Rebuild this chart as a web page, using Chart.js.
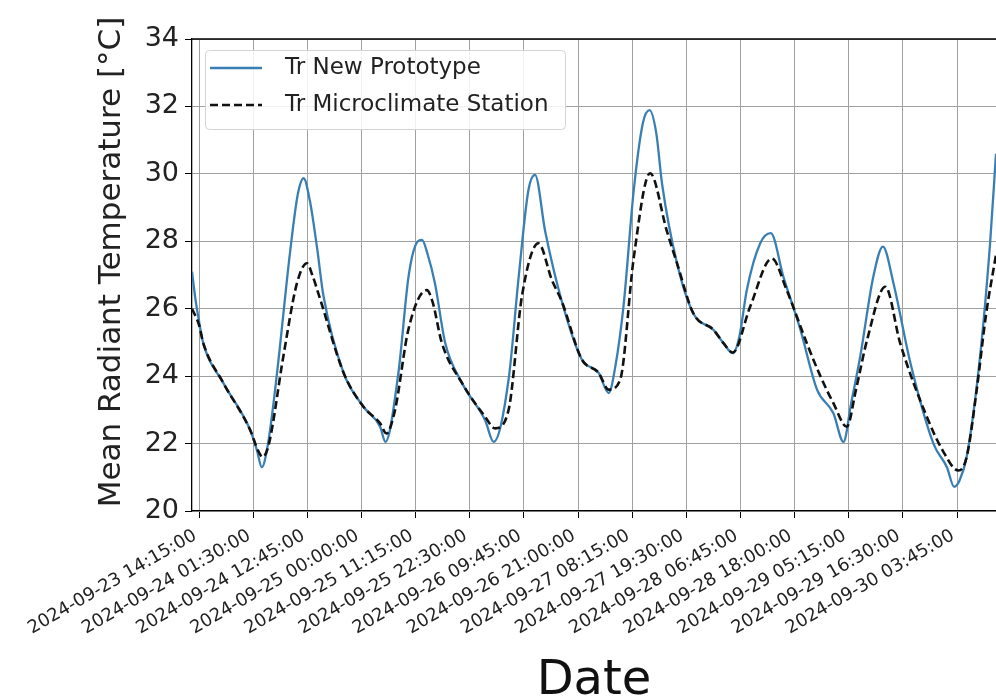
<!DOCTYPE html>
<html>
<head>
<meta charset="utf-8">
<script src="https://cdn.jsdelivr.net/npm/chart.js@4.4.1/dist/chart.umd.min.js"></script>
<style>
  html, body { margin: 0; padding: 0; background: #fff; }
  #wrap { width: 996px; height: 697px; }
</style>
</head>
<body>
<div id="wrap"><canvas id="myChart" width="996" height="697"></canvas></div>
<script>
// hours after 2024-09-23 14:15:00
const protoHours = [-1.5, -0.8, 0, 0.8, 5, 10.6, 12.0, 13.0, 14.3, 16.1, 18.9, 20.5, 21.7, 23.0, 24.5, 25.8, 30.0, 34.1, 37.6, 38.7,
    41.4, 43.5, 45.0, 46.3, 47.5, 49.0, 51.1, 54.6, 59.4, 61.2, 64.3, 66.4, 68.4, 69.8, 71.9, 75.4, 79.5, 83.0, 85.1,
    86.5, 88.2, 90.3, 92.2, 93.6, 95.0, 96.2, 99.3, 102.7, 106.9, 109.0, 110.9, 112.3, 113.8, 116.6, 118.8, 121.4,
    124.9, 128.4, 131.8, 133.9, 135.5, 137.4, 140.1, 142.1, 144.3, 147.8, 152.6, 155.4, 156.9, 158.0, 159.5, 162.3,
    164.4, 165.6];
const protoTemp = [27.1, 26.3, 25.6, 25.0, 23.8, 22.4, 21.8, 21.3, 22.0, 24.0, 27.7, 29.4, 29.87, 29.2, 27.8, 26.4, 24.1, 23.1, 22.5, 22.05,
    24.1, 26.95, 27.9, 28.04, 27.6, 26.75, 25.0, 23.8, 22.7, 22.05, 23.9, 26.95, 29.5, 29.97, 28.3, 26.2, 24.5, 24.1, 23.5,
    24.3, 26.1, 29.5, 31.5, 31.89, 31.2, 29.7, 27.35, 25.86, 25.37, 24.97, 24.68, 25.2, 26.55, 27.94, 28.24, 26.95,
    25.4, 23.6, 22.9, 22.05, 23.2, 24.6, 26.95, 27.84, 26.75, 24.4, 22.0, 21.3, 20.72, 20.9, 21.6, 24.6,
    28.0, 30.6];

const stationHours = [-1.5, 0, 0.8, 5, 10.6, 12.2, 13.2, 14.5, 17.5, 20.3, 22.4, 23.5, 25.1, 30.0, 34.1, 37.6, 38.9,
    40.7, 43.5, 47.3, 48.5, 50.4, 54.6, 59.4, 61.5, 64.3, 67.1, 70.5, 73.3, 75.4, 79.5, 83.0, 85.1, 87.5, 90.3,
    93.7, 97.2, 99.3, 102.7, 106.9, 109.0, 110.9, 114.5, 119.0, 122.1, 126.3, 129.1, 131.8, 134.6, 136.5, 138.8,
    142.6, 145.7, 151.2, 154.5, 157.8, 159.5, 161.6, 163.5, 165.6];
const stationTemp = [26.0, 25.5, 25.0, 23.8, 22.4, 21.8, 21.6, 22.0, 24.6, 26.75, 27.35, 27.0, 26.3, 24.1, 23.1, 22.6, 22.3,
    23.0, 25.4, 26.55, 26.2, 25.0, 23.8, 22.8, 22.45, 23.0, 26.4, 27.94, 26.85, 26.2, 24.5, 24.1, 23.6, 23.9, 27.5,
    30.02, 28.3, 27.35, 25.86, 25.37, 24.97, 24.7, 26.06, 27.49, 26.55, 24.97, 24.0, 23.2, 22.5, 23.6, 25.07,
    26.65, 24.97, 22.8, 21.8, 21.2, 21.6, 23.6, 25.8, 27.6];

const tickLabels = ['2024-09-23 14:15:00', '2024-09-24 01:30:00', '2024-09-24 12:45:00', '2024-09-25 00:00:00',
    '2024-09-25 11:15:00', '2024-09-25 22:30:00', '2024-09-26 09:45:00', '2024-09-26 21:00:00',
    '2024-09-27 08:15:00', '2024-09-27 19:30:00', '2024-09-28 06:45:00', '2024-09-28 18:00:00',
    '2024-09-29 05:15:00', '2024-09-29 16:30:00', '2024-09-30 03:45:00'];
const yTicks = [20, 22, 24, 26, 28, 30, 32, 34];

const seriesNames = ['Tr New Prototype', 'Tr Microclimate Station'];
const yTitle = 'Mean Radiant Temperature [°C]';

// tick positions in hours, taken from the label dates
const t0 = Date.parse(tickLabels[0].replace(' ', 'T'));
const tickHours = tickLabels.map(l => (Date.parse(l.replace(' ', 'T')) - t0) / 3600000);

const FONT = "'DejaVu Sans', sans-serif";

// top spine, y title and the framed legend inside the axes
const framePlugin = {
    id: 'frame',
    afterDatasetsDraw(chart) {
        const ctx = chart.ctx;
        const a = chart.chartArea;
        ctx.save();
        ctx.strokeStyle = '#000';
        ctx.lineWidth = 1.3;
        ctx.beginPath();
        ctx.moveTo(a.left, a.top);
        ctx.lineTo(a.right, a.top);
        ctx.stroke();

        // y axis title
        ctx.save();
        ctx.translate(112, 262);
        ctx.rotate(-Math.PI / 2);
        ctx.font = '31px ' + FONT;
        ctx.fillStyle = '#222';
        ctx.textAlign = 'center';
        ctx.textBaseline = 'middle';
        ctx.fillText(yTitle, 0, 0);
        ctx.restore();

        // legend box
        const bx = 205.5, by = 50.5, bw = 360, bh = 79;
        ctx.beginPath();
        ctx.roundRect(bx, by, bw, bh, 4);
        ctx.fillStyle = 'rgba(255,255,255,0.85)';
        ctx.fill();
        ctx.strokeStyle = '#d4d4d4';
        ctx.lineWidth = 1;
        ctx.stroke();

        const rows = [68, 105];
        chart.data.datasets.slice().sort((p, q) => p.legendIndex - q.legendIndex).forEach((ds, i) => {
            const y = rows[i];
            ctx.beginPath();
            ctx.setLineDash(ds.borderDash || []);
            ctx.strokeStyle = ds.borderColor;
            ctx.lineWidth = ds.borderWidth;
            ctx.moveTo(210, y);
            ctx.lineTo(262, y);
            ctx.stroke();
            ctx.setLineDash([]);
            ctx.fillStyle = '#222';
            ctx.font = '23px ' + FONT;
            ctx.textBaseline = 'middle';
            ctx.textAlign = 'left';
            ctx.fillText(ds.label, 285, y);
        });
        ctx.restore();
    }
};

const ctx = document.getElementById('myChart').getContext('2d');
const myChart = new Chart(ctx, {
    type: 'line',
    data: {
        datasets: [
            {
                label: seriesNames[1],
                legendIndex: 1,
                data: stationHours.map((h, i) => ({ x: h, y: stationTemp[i] })),
                borderColor: '#111',
                borderWidth: 2.6,
                borderDash: [8, 4],
                pointRadius: 0,
                cubicInterpolationMode: 'monotone',
                order: 0
            },
            {
                label: seriesNames[0],
                legendIndex: 0,
                data: protoHours.map((h, i) => ({ x: h, y: protoTemp[i] })),
                borderColor: '#3a7fb3',
                borderWidth: 2.3,
                pointRadius: 0,
                cubicInterpolationMode: 'monotone',
                order: 1
            }
        ]
    },
    options: {
        responsive: false,
        animation: false,
        layout: { padding: { left: 0, right: 0, top: 39, bottom: 0 } },
        plugins: {
            legend: { display: false },
            tooltip: { enabled: false }
        },
        scales: {
            x: {
                type: 'linear',
                min: -1.5,
                max: 165.6,
                afterBuildTicks: scale => { scale.ticks = tickHours.map(v => ({ value: v })); },
                afterFit: scale => { scale.height = 186; },
                ticks: {
                    autoSkip: false,
                    minRotation: 30,
                    maxRotation: 30,
                    padding: 7,
                    labelOffset: -4,
                    color: '#222',
                    font: { family: FONT, size: 18 },
                    callback: (value, index) => tickLabels[index]
                },
                grid: { color: '#a0a0a0', lineWidth: 1, tickLength: 7, tickColor: '#000' },
                border: { color: '#000', width: 1.3 },
                title: {
                    display: true,
                    text: 'Date',
                    color: '#111',
                    font: { family: FONT, size: 48 },
                    padding: { top: 0, bottom: -13 }
                }
            },
            y: {
                min: 20,
                max: 34,
                afterBuildTicks: scale => { scale.ticks = yTicks.map(v => ({ value: v })); },
                afterFit: scale => { scale.width = 192; },
                ticks: {
                    padding: 6,
                    color: '#222',
                    font: { family: FONT, size: 27 }
                },
                grid: { color: '#a0a0a0', lineWidth: 1, tickLength: 7, tickColor: '#000' },
                border: { color: '#000', width: 1.3 }
            }
        }
    },
    plugins: [framePlugin]
});
</script>
</body>
</html>
